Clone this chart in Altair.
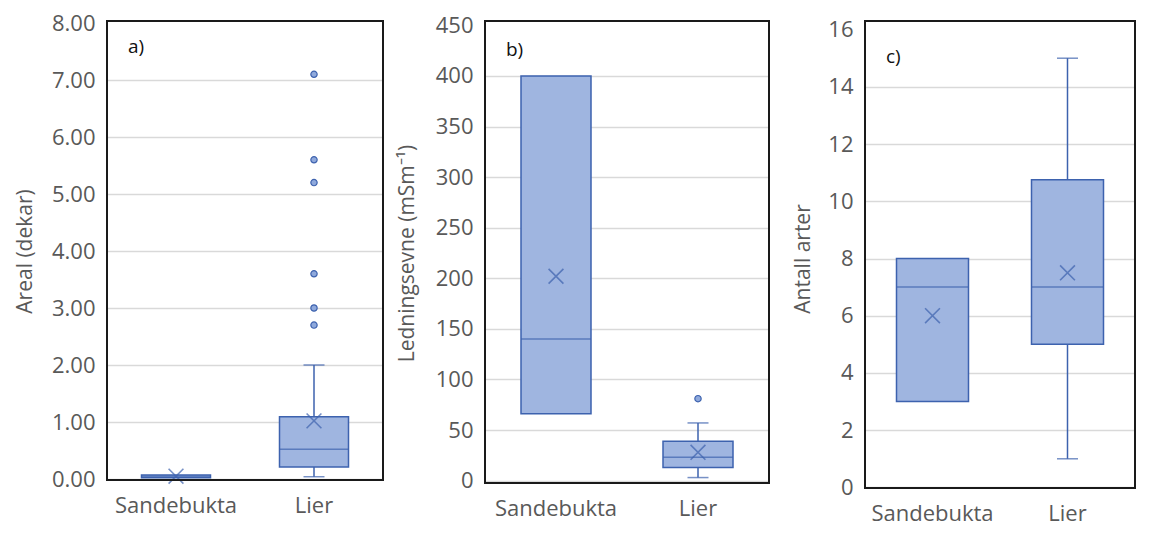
import altair as alt
import pandas as pd

cats = ["Sandebukta", "Lier"]

# Panel a) Areal (dekar)
a_lo = [0.02, 0.04]
a_q1 = [0.02, 0.21]
a_med = [0.05, 0.52]
a_q3 = [0.07, 1.09]
a_hi = [0.07, 2.00]
a_mean = [0.05, 1.02]
a_out_cat = ["Lier"] * 6
a_out_val = [2.7, 3.0, 3.6, 5.2, 5.6, 7.1]

# Panel b) Ledningsevne (mSm-1)
b_lo = [66, 3]
b_q1 = [66, 13]
b_med = [140, 23]
b_q3 = [400, 39]
b_hi = [400, 57]
b_mean = [202, 28]
b_out_cat = ["Lier"]
b_out_val = [81]

# Panel c) Antall arter
c_lo = [3, 1]
c_q1 = [3, 5]
c_med = [7, 7]
c_q3 = [8, 10.75]
c_hi = [8, 15]
c_mean = [6, 7.5]
c_out_cat = []
c_out_val = []

FILL = "#9fb5e0"
STROKE = "#3d62ae"
GRID = "#d9d9d9"
TXT = "#595959"
FONT = "Open Sans"


def panel(lo, q1, med, q3, hi, mean, out_cat, out_val, ymax, ystep, fmt,
          ytitle, tag, width, height, rng, title_pad, tag_y, bw):
    df = pd.DataFrame({"cat": cats, "lo": lo, "q1": q1, "med": med,
                       "q3": q3, "hi": hi, "mean": mean})
    od = pd.DataFrame({"cat": out_cat, "val": out_val})
    xs = alt.X("cat:N", sort=cats,
               scale=alt.Scale(domain=cats, paddingInner=0, paddingOuter=0),
               axis=alt.Axis(title=None, labelAngle=0, ticks=False, domain=False,
                             labelFontSize=22, labelColor=TXT, labelFont=FONT,
                             labelPadding=15))
    yscale = alt.Scale(domain=[0, ymax], nice=False, range=rng)
    yaxis = alt.Axis(title=ytitle, values=[i * ystep for i in range(int(round(ymax / ystep)) + 1)],
                     format=fmt, grid=True, gridColor=GRID, gridWidth=1.5,
                     gridOpacity=alt.condition(f"datum.value >= {ymax}", alt.value(0), alt.value(1)),
                     ticks=False, domain=False, labelFontSize=22, labelColor=TXT,
                     labelFont=FONT, labelPadding=12, titleFontSize=21,
                     titleFontWeight="normal", titleColor=TXT, titleFont=FONT,
                     titlePadding=title_pad)
    base = alt.Chart(df)
    whisk_hi = base.mark_rule(color=STROKE, strokeWidth=1.5).encode(
        x=xs, y=alt.Y("hi:Q", scale=yscale, axis=yaxis), y2="q3:Q")
    whisk_lo = base.mark_rule(color=STROKE, strokeWidth=1.5).encode(
        x=xs, y=alt.Y("q1:Q", scale=yscale), y2="lo:Q")
    cap_hi = base.transform_filter("datum.hi > datum.q3").mark_tick(
        color=STROKE, size=21, thickness=1.5, orient="horizontal").encode(
        x=xs, y=alt.Y("hi:Q", scale=yscale))
    cap_lo = base.transform_filter("datum.lo < datum.q1").mark_tick(
        color=STROKE, size=21, thickness=1.5, orient="horizontal").encode(
        x=xs, y=alt.Y("lo:Q", scale=yscale))
    box = base.mark_bar(size=bw, fill=FILL, stroke=STROKE, strokeWidth=1.5).encode(
        x=xs, y=alt.Y("q1:Q", scale=yscale), y2="q3:Q")
    median = base.mark_tick(color=STROKE, size=bw, thickness=1.5,
                            orient="horizontal").encode(
        x=xs, y=alt.Y("med:Q", scale=yscale))
    meanm = base.mark_point(shape="M-1,-1L1,1M-1,1L1,-1", size=220, filled=False,
                            stroke=STROKE, strokeWidth=1.6).encode(
        x=xs, y=alt.Y("mean:Q", scale=yscale))
    layers = [whisk_hi, whisk_lo, cap_hi, cap_lo, box, median, meanm]
    if len(out_val) > 0:
        outl = alt.Chart(od).mark_point(shape="circle", filled=True, size=40,
                                        fill="#8fa9dc", stroke=STROKE,
                                        strokeWidth=1.2, opacity=1).encode(
            x=xs, y=alt.Y("val:Q", scale=yscale))
        layers.append(outl)
    label = alt.Chart(pd.DataFrame({"t": [tag]})).mark_text(
        align="left", baseline="middle", fontSize=19, font=FONT,
        color="#111111").encode(x=alt.value(21), y=alt.value(tag_y), text="t:N")
    layers.append(label)
    frame = alt.Chart(pd.DataFrame({"t": [tag]})).mark_rect(
        fill="transparent", stroke="#1a1a1a", strokeWidth=2).encode(
        x=alt.value(0), x2=alt.value(width), y=alt.value(0), y2=alt.value(height))
    layers.append(frame)
    return alt.layer(*layers).properties(width=width, height=height)


pa = panel(a_lo, a_q1, a_med, a_q3, a_hi, a_mean, a_out_cat, a_out_val,
           8, 1, ".2f", "Areal (dekar)", "a)", 276, 459, [458, 2], 16, 26, 69)
pb = panel(b_lo, b_q1, b_med, b_q3, b_hi, b_mean, b_out_cat, b_out_val,
           450, 50, "d", "Ledningsevne  (mSm⁻¹)", "b)", 284, 462, [459.6, 4.4], 18, 29, 70)
pc = panel(c_lo, c_q1, c_med, c_q3, c_hi, c_mean, c_out_cat, c_out_val,
           16, 2, "d", "Antall arter", "c)", 270, 467, [466.4, 8.6], 14, 36, 72)

chart = alt.hconcat(alt.hconcat(pa, pb, spacing=10), pc, spacing=21).properties(
    padding={"left": 5, "top": 3, "right": 0, "bottom": 0}
).configure_view(stroke="transparent")

chart.save("out.html", embed_options={"renderer": "svg", "actions": False})
